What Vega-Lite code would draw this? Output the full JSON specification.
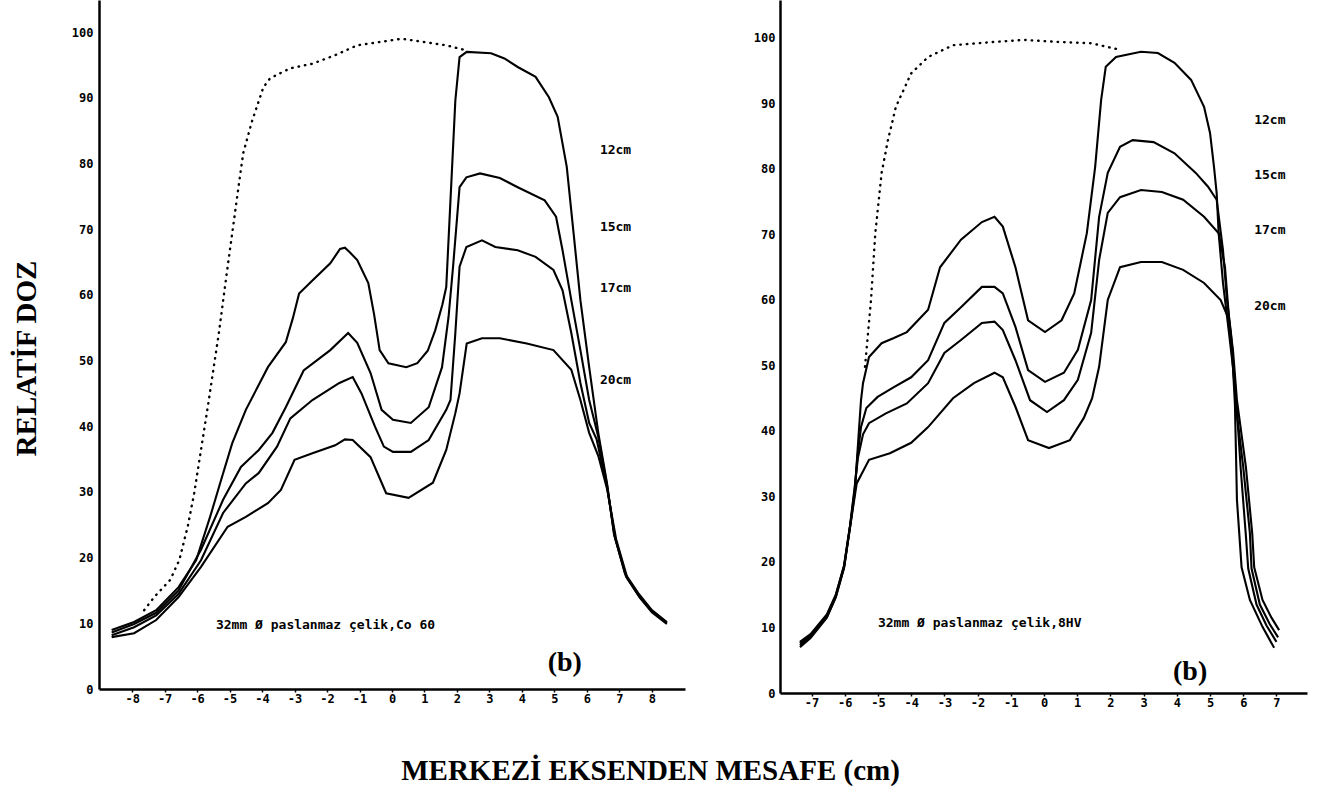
{
  "$schema": "https://vega.github.io/schema/vega-lite/v6.json",
  "background": "white",
  "padding": {"left": 12, "top": 0, "right": 8, "bottom": 4},
  "bounds": "flush",
  "spacing": 95,
  "config": {
    "view": {"stroke": null},
    "axis": {
      "domainColor": "black", "domainWidth": 2.5, "grid": false,
      "labelFont": "DejaVu Sans Mono", "labelFontWeight": "bold", "labelFontSize": 12, "labelColor": "black",
      "tickColor": "black", "labelOverlap": false, "labelFlush": false
    }
  },
  "datasets": {
    "leftCurves": [
      {"series": "12cm", "x": -8.63, "v": 9.0}, {"series": "12cm", "x": -7.94, "v": 10.2}, {"series": "12cm", "x": -7.26, "v": 12.0},
      {"series": "12cm", "x": -6.57, "v": 15.5}, {"series": "12cm", "x": -6.03, "v": 19.6}, {"series": "12cm", "x": -5.6, "v": 26.2},
      {"series": "12cm", "x": -5.25, "v": 32.0}, {"series": "12cm", "x": -4.92, "v": 37.4}, {"series": "12cm", "x": -4.5, "v": 42.5},
      {"series": "12cm", "x": -3.82, "v": 49.0}, {"series": "12cm", "x": -3.27, "v": 52.8}, {"series": "12cm", "x": -3.05, "v": 56.5},
      {"series": "12cm", "x": -2.86, "v": 60.2}, {"series": "12cm", "x": -2.45, "v": 62.2}, {"series": "12cm", "x": -1.9, "v": 64.8},
      {"series": "12cm", "x": -1.6, "v": 67.0}, {"series": "12cm", "x": -1.45, "v": 67.2}, {"series": "12cm", "x": -1.3, "v": 66.5},
      {"series": "12cm", "x": -1.07, "v": 65.3}, {"series": "12cm", "x": -0.73, "v": 61.8}, {"series": "12cm", "x": -0.55, "v": 57.0},
      {"series": "12cm", "x": -0.38, "v": 51.6}, {"series": "12cm", "x": -0.11, "v": 49.6}, {"series": "12cm", "x": 0.44, "v": 49.0},
      {"series": "12cm", "x": 0.78, "v": 49.6}, {"series": "12cm", "x": 1.1, "v": 51.5}, {"series": "12cm", "x": 1.33, "v": 54.6},
      {"series": "12cm", "x": 1.55, "v": 58.5}, {"series": "12cm", "x": 1.67, "v": 61.2}, {"series": "12cm", "x": 1.8, "v": 74.4},
      {"series": "12cm", "x": 1.95, "v": 89.6}, {"series": "12cm", "x": 2.08, "v": 96.2}, {"series": "12cm", "x": 2.3, "v": 97.0},
      {"series": "12cm", "x": 3.05, "v": 96.8}, {"series": "12cm", "x": 3.46, "v": 96.0}, {"series": "12cm", "x": 3.87, "v": 94.7},
      {"series": "12cm", "x": 4.42, "v": 93.2}, {"series": "12cm", "x": 4.83, "v": 90.1}, {"series": "12cm", "x": 5.1, "v": 87.1},
      {"series": "12cm", "x": 5.38, "v": 79.5}, {"series": "12cm", "x": 5.59, "v": 69.4}, {"series": "12cm", "x": 5.8, "v": 59.2},
      {"series": "12cm", "x": 6.07, "v": 49.0}, {"series": "12cm", "x": 6.35, "v": 39.0}, {"series": "12cm", "x": 6.62, "v": 31.3},
      {"series": "12cm", "x": 6.83, "v": 23.7}, {"series": "12cm", "x": 7.17, "v": 17.6}, {"series": "12cm", "x": 7.58, "v": 14.6},
      {"series": "12cm", "x": 8.0, "v": 12.0}, {"series": "12cm", "x": 8.46, "v": 10.2},

      {"series": "15cm", "x": -8.63, "v": 8.6}, {"series": "15cm", "x": -7.94, "v": 9.9}, {"series": "15cm", "x": -7.26, "v": 11.6},
      {"series": "15cm", "x": -6.57, "v": 15.0}, {"series": "15cm", "x": -5.88, "v": 21.2}, {"series": "15cm", "x": -5.2, "v": 28.8},
      {"series": "15cm", "x": -4.65, "v": 33.8}, {"series": "15cm", "x": -4.1, "v": 36.4}, {"series": "15cm", "x": -3.68, "v": 39.0},
      {"series": "15cm", "x": -3.27, "v": 42.9}, {"series": "15cm", "x": -2.72, "v": 48.5}, {"series": "15cm", "x": -1.9, "v": 51.6},
      {"series": "15cm", "x": -1.35, "v": 54.2}, {"series": "15cm", "x": -1.07, "v": 52.7}, {"series": "15cm", "x": -0.66, "v": 48.1},
      {"series": "15cm", "x": -0.32, "v": 42.5}, {"series": "15cm", "x": 0.03, "v": 41.0}, {"series": "15cm", "x": 0.58, "v": 40.5},
      {"series": "15cm", "x": 1.13, "v": 42.9}, {"series": "15cm", "x": 1.54, "v": 49.0}, {"series": "15cm", "x": 1.74, "v": 56.6},
      {"series": "15cm", "x": 1.88, "v": 64.3}, {"series": "15cm", "x": 2.08, "v": 76.4}, {"series": "15cm", "x": 2.29, "v": 77.9},
      {"series": "15cm", "x": 2.71, "v": 78.5}, {"series": "15cm", "x": 3.32, "v": 77.8}, {"series": "15cm", "x": 3.87, "v": 76.4},
      {"series": "15cm", "x": 4.7, "v": 74.4}, {"series": "15cm", "x": 5.05, "v": 71.9}, {"series": "15cm", "x": 5.25, "v": 66.8},
      {"series": "15cm", "x": 5.52, "v": 59.2}, {"series": "15cm", "x": 5.8, "v": 51.6}, {"series": "15cm", "x": 6.07, "v": 44.0},
      {"series": "15cm", "x": 6.35, "v": 38.4}, {"series": "15cm", "x": 6.62, "v": 31.0}, {"series": "15cm", "x": 6.85, "v": 23.3},
      {"series": "15cm", "x": 7.2, "v": 17.2}, {"series": "15cm", "x": 7.6, "v": 14.3}, {"series": "15cm", "x": 8.0, "v": 11.9},
      {"series": "15cm", "x": 8.46, "v": 10.1},

      {"series": "17cm", "x": -8.63, "v": 8.2}, {"series": "17cm", "x": -7.94, "v": 9.4}, {"series": "17cm", "x": -7.26, "v": 11.2},
      {"series": "17cm", "x": -6.57, "v": 14.5}, {"series": "17cm", "x": -5.88, "v": 19.6}, {"series": "17cm", "x": -5.2, "v": 26.8},
      {"series": "17cm", "x": -4.5, "v": 31.3}, {"series": "17cm", "x": -4.1, "v": 32.9}, {"series": "17cm", "x": -3.54, "v": 36.9},
      {"series": "17cm", "x": -3.13, "v": 41.2}, {"series": "17cm", "x": -2.45, "v": 44.0}, {"series": "17cm", "x": -1.62, "v": 46.6},
      {"series": "17cm", "x": -1.21, "v": 47.5}, {"series": "17cm", "x": -0.94, "v": 45.0}, {"series": "17cm", "x": -0.52, "v": 39.9},
      {"series": "17cm", "x": -0.25, "v": 36.9}, {"series": "17cm", "x": 0.03, "v": 36.1}, {"series": "17cm", "x": 0.58, "v": 36.1},
      {"series": "17cm", "x": 1.13, "v": 37.9}, {"series": "17cm", "x": 1.67, "v": 42.5}, {"series": "17cm", "x": 1.8, "v": 44.0},
      {"series": "17cm", "x": 1.95, "v": 54.2}, {"series": "17cm", "x": 2.08, "v": 64.3}, {"series": "17cm", "x": 2.29, "v": 67.3},
      {"series": "17cm", "x": 2.77, "v": 68.3}, {"series": "17cm", "x": 3.18, "v": 67.3}, {"series": "17cm", "x": 3.87, "v": 66.8},
      {"series": "17cm", "x": 4.42, "v": 65.8}, {"series": "17cm", "x": 4.97, "v": 63.8}, {"series": "17cm", "x": 5.25, "v": 60.7},
      {"series": "17cm", "x": 5.52, "v": 54.2}, {"series": "17cm", "x": 5.8, "v": 46.6}, {"series": "17cm", "x": 6.07, "v": 40.5},
      {"series": "17cm", "x": 6.3, "v": 38.0}, {"series": "17cm", "x": 6.62, "v": 30.8}, {"series": "17cm", "x": 6.87, "v": 23.0},
      {"series": "17cm", "x": 7.22, "v": 17.0}, {"series": "17cm", "x": 7.62, "v": 14.0}, {"series": "17cm", "x": 8.0, "v": 11.8},
      {"series": "17cm", "x": 8.46, "v": 10.0},

      {"series": "20cm", "x": -8.63, "v": 7.9}, {"series": "20cm", "x": -7.94, "v": 8.5}, {"series": "20cm", "x": -7.26, "v": 10.5},
      {"series": "20cm", "x": -6.57, "v": 14.0}, {"series": "20cm", "x": -5.88, "v": 18.6}, {"series": "20cm", "x": -5.06, "v": 24.7},
      {"series": "20cm", "x": -4.5, "v": 26.2}, {"series": "20cm", "x": -3.82, "v": 28.3}, {"series": "20cm", "x": -3.42, "v": 30.3},
      {"series": "20cm", "x": -3.0, "v": 34.9}, {"series": "20cm", "x": -2.45, "v": 35.9}, {"series": "20cm", "x": -1.75, "v": 37.1},
      {"series": "20cm", "x": -1.45, "v": 38.0}, {"series": "20cm", "x": -1.21, "v": 37.9}, {"series": "20cm", "x": -0.66, "v": 35.3},
      {"series": "20cm", "x": -0.18, "v": 29.8}, {"series": "20cm", "x": 0.51, "v": 29.1}, {"series": "20cm", "x": 1.26, "v": 31.4},
      {"series": "20cm", "x": 1.67, "v": 36.4}, {"series": "20cm", "x": 1.95, "v": 42.0}, {"series": "20cm", "x": 2.08, "v": 45.0},
      {"series": "20cm", "x": 2.3, "v": 52.6}, {"series": "20cm", "x": 2.77, "v": 53.4}, {"series": "20cm", "x": 3.32, "v": 53.4},
      {"series": "20cm", "x": 4.15, "v": 52.6}, {"series": "20cm", "x": 4.97, "v": 51.6}, {"series": "20cm", "x": 5.52, "v": 48.6},
      {"series": "20cm", "x": 5.8, "v": 44.0}, {"series": "20cm", "x": 6.07, "v": 39.0}, {"series": "20cm", "x": 6.35, "v": 35.5},
      {"series": "20cm", "x": 6.62, "v": 30.5}, {"series": "20cm", "x": 6.9, "v": 22.8}, {"series": "20cm", "x": 7.25, "v": 16.8},
      {"series": "20cm", "x": 7.65, "v": 13.8}, {"series": "20cm", "x": 8.0, "v": 11.7}, {"series": "20cm", "x": 8.46, "v": 9.9}
    ],
    "leftOpen": [
      {"x": -7.63, "v": 12.0}, {"x": -7.32, "v": 14.0}, {"x": -6.83, "v": 16.6}, {"x": -6.55, "v": 19.6}, {"x": -6.29, "v": 24.7},
      {"x": -6.09, "v": 29.8}, {"x": -5.88, "v": 36.4}, {"x": -5.67, "v": 43.0}, {"x": -5.33, "v": 54.2}, {"x": -5.06, "v": 64.3},
      {"x": -4.85, "v": 71.9}, {"x": -4.71, "v": 77.0}, {"x": -4.58, "v": 81.6}, {"x": -4.3, "v": 86.6}, {"x": -3.96, "v": 91.6},
      {"x": -3.75, "v": 93.0}, {"x": -3.13, "v": 94.5}, {"x": -2.45, "v": 95.2}, {"x": -1.75, "v": 96.5}, {"x": -1.07, "v": 98.0},
      {"x": -0.38, "v": 98.5}, {"x": 0.3, "v": 99.0}, {"x": 0.99, "v": 98.5}, {"x": 1.67, "v": 98.0}, {"x": 2.23, "v": 97.3}
    ],
    "leftLabels": [
      {"x": 6.4, "v": 82.0, "label": "12cm"}, {"x": 6.4, "v": 70.3, "label": "15cm"},
      {"x": 6.4, "v": 61.0, "label": "17cm"}, {"x": 6.4, "v": 47.0, "label": "20cm"}
    ],
    "leftNote": [{"x": -5.42, "v": 9.8, "label": "32mm Ø paslanmaz çelik,Co 60"}],
    "leftTag": [{"x": 5.32, "v": 4.0, "label": "(b)"}],
    "rightCurves": [
      {"series": "12cm", "x": -7.35, "v": 7.3}, {"series": "12cm", "x": -7.03, "v": 8.6}, {"series": "12cm", "x": -6.54, "v": 11.6},
      {"series": "12cm", "x": -6.27, "v": 14.7}, {"series": "12cm", "x": -6.02, "v": 19.2}, {"series": "12cm", "x": -5.84, "v": 25.4},
      {"series": "12cm", "x": -5.7, "v": 30.5}, {"series": "12cm", "x": -5.58, "v": 39.6}, {"series": "12cm", "x": -5.51, "v": 44.7},
      {"series": "12cm", "x": -5.45, "v": 47.3}, {"series": "12cm", "x": -5.27, "v": 51.3}, {"series": "12cm", "x": -4.89, "v": 53.4},
      {"series": "12cm", "x": -4.52, "v": 54.2}, {"series": "12cm", "x": -4.13, "v": 55.1}, {"series": "12cm", "x": -3.49, "v": 58.5},
      {"series": "12cm", "x": -3.13, "v": 65.0}, {"series": "12cm", "x": -2.5, "v": 69.2}, {"series": "12cm", "x": -1.87, "v": 71.9},
      {"series": "12cm", "x": -1.49, "v": 72.7}, {"series": "12cm", "x": -1.24, "v": 71.2}, {"series": "12cm", "x": -0.86, "v": 65.0},
      {"series": "12cm", "x": -0.48, "v": 56.9}, {"series": "12cm", "x": 0.03, "v": 55.1}, {"series": "12cm", "x": 0.53, "v": 56.9},
      {"series": "12cm", "x": 0.91, "v": 61.0}, {"series": "12cm", "x": 1.29, "v": 70.2}, {"series": "12cm", "x": 1.54, "v": 80.3},
      {"series": "12cm", "x": 1.72, "v": 90.5}, {"series": "12cm", "x": 1.86, "v": 95.6}, {"series": "12cm", "x": 2.17, "v": 97.1},
      {"series": "12cm", "x": 2.92, "v": 97.9}, {"series": "12cm", "x": 3.43, "v": 97.7}, {"series": "12cm", "x": 3.93, "v": 96.2},
      {"series": "12cm", "x": 4.43, "v": 93.6}, {"series": "12cm", "x": 4.82, "v": 89.5}, {"series": "12cm", "x": 5.0, "v": 85.5},
      {"series": "12cm", "x": 5.12, "v": 80.3}, {"series": "12cm", "x": 5.2, "v": 76.3}, {"series": "12cm", "x": 5.26, "v": 70.2},
      {"series": "12cm", "x": 5.39, "v": 62.6}, {"series": "12cm", "x": 5.57, "v": 55.0}, {"series": "12cm", "x": 5.69, "v": 49.8},
      {"series": "12cm", "x": 5.75, "v": 44.0}, {"series": "12cm", "x": 5.78, "v": 37.0}, {"series": "12cm", "x": 5.81, "v": 29.5},
      {"series": "12cm", "x": 5.95, "v": 19.2}, {"series": "12cm", "x": 6.2, "v": 14.2}, {"series": "12cm", "x": 6.58, "v": 10.1},
      {"series": "12cm", "x": 6.93, "v": 6.9},

      {"series": "15cm", "x": -7.35, "v": 7.6}, {"series": "15cm", "x": -7.03, "v": 8.8}, {"series": "15cm", "x": -6.54, "v": 11.8},
      {"series": "15cm", "x": -6.27, "v": 14.9}, {"series": "15cm", "x": -6.02, "v": 19.4}, {"series": "15cm", "x": -5.84, "v": 25.5},
      {"series": "15cm", "x": -5.7, "v": 31.0}, {"series": "15cm", "x": -5.62, "v": 36.0}, {"series": "15cm", "x": -5.51, "v": 40.6},
      {"series": "15cm", "x": -5.35, "v": 43.5}, {"series": "15cm", "x": -5.01, "v": 45.2}, {"series": "15cm", "x": -4.52, "v": 46.7},
      {"series": "15cm", "x": -4.0, "v": 48.2}, {"series": "15cm", "x": -3.49, "v": 50.8}, {"series": "15cm", "x": -3.0, "v": 56.5},
      {"series": "15cm", "x": -2.5, "v": 58.9}, {"series": "15cm", "x": -1.87, "v": 62.0}, {"series": "15cm", "x": -1.49, "v": 62.0},
      {"series": "15cm", "x": -1.24, "v": 61.0}, {"series": "15cm", "x": -0.86, "v": 55.9}, {"series": "15cm", "x": -0.48, "v": 49.3},
      {"series": "15cm", "x": 0.03, "v": 47.5}, {"series": "15cm", "x": 0.6, "v": 48.9}, {"series": "15cm", "x": 1.02, "v": 52.4},
      {"series": "15cm", "x": 1.42, "v": 60.0}, {"series": "15cm", "x": 1.66, "v": 72.7}, {"series": "15cm", "x": 1.92, "v": 79.4},
      {"series": "15cm", "x": 2.29, "v": 83.4}, {"series": "15cm", "x": 2.67, "v": 84.4}, {"series": "15cm", "x": 3.3, "v": 84.1},
      {"series": "15cm", "x": 3.93, "v": 82.4}, {"series": "15cm", "x": 4.57, "v": 79.4}, {"series": "15cm", "x": 4.94, "v": 77.3},
      {"series": "15cm", "x": 5.2, "v": 75.3}, {"series": "15cm", "x": 5.39, "v": 67.6}, {"series": "15cm", "x": 5.51, "v": 60.0},
      {"series": "15cm", "x": 5.63, "v": 55.0}, {"series": "15cm", "x": 5.75, "v": 47.3}, {"series": "15cm", "x": 5.85, "v": 40.0},
      {"series": "15cm", "x": 5.92, "v": 34.5}, {"series": "15cm", "x": 6.08, "v": 24.0}, {"series": "15cm", "x": 6.15, "v": 19.0},
      {"series": "15cm", "x": 6.4, "v": 13.5}, {"series": "15cm", "x": 6.7, "v": 10.3}, {"series": "15cm", "x": 7.0, "v": 7.8},

      {"series": "17cm", "x": -7.35, "v": 7.8}, {"series": "17cm", "x": -7.03, "v": 9.0}, {"series": "17cm", "x": -6.54, "v": 12.0},
      {"series": "17cm", "x": -6.27, "v": 15.0}, {"series": "17cm", "x": -6.02, "v": 19.5}, {"series": "17cm", "x": -5.84, "v": 25.6},
      {"series": "17cm", "x": -5.7, "v": 31.5}, {"series": "17cm", "x": -5.6, "v": 36.0}, {"series": "17cm", "x": -5.45, "v": 39.5},
      {"series": "17cm", "x": -5.27, "v": 41.2}, {"series": "17cm", "x": -4.76, "v": 42.7}, {"series": "17cm", "x": -4.13, "v": 44.2},
      {"series": "17cm", "x": -3.49, "v": 47.3}, {"series": "17cm", "x": -3.0, "v": 51.9}, {"series": "17cm", "x": -2.5, "v": 53.9},
      {"series": "17cm", "x": -1.87, "v": 56.5}, {"series": "17cm", "x": -1.49, "v": 56.7}, {"series": "17cm", "x": -1.24, "v": 55.4},
      {"series": "17cm", "x": -0.86, "v": 50.8}, {"series": "17cm", "x": -0.42, "v": 44.7}, {"series": "17cm", "x": 0.09, "v": 42.9},
      {"series": "17cm", "x": 0.6, "v": 44.7}, {"series": "17cm", "x": 1.02, "v": 47.8}, {"series": "17cm", "x": 1.42, "v": 55.0},
      {"series": "17cm", "x": 1.66, "v": 66.1}, {"series": "17cm", "x": 1.92, "v": 73.3}, {"series": "17cm", "x": 2.29, "v": 75.7},
      {"series": "17cm", "x": 2.92, "v": 76.8}, {"series": "17cm", "x": 3.55, "v": 76.5}, {"series": "17cm", "x": 4.19, "v": 75.3},
      {"series": "17cm", "x": 4.82, "v": 72.7}, {"series": "17cm", "x": 5.26, "v": 70.2}, {"series": "17cm", "x": 5.45, "v": 65.0},
      {"series": "17cm", "x": 5.57, "v": 57.4}, {"series": "17cm", "x": 5.69, "v": 49.8}, {"series": "17cm", "x": 5.8, "v": 43.0},
      {"series": "17cm", "x": 6.0, "v": 34.5}, {"series": "17cm", "x": 6.2, "v": 24.4}, {"series": "17cm", "x": 6.25, "v": 19.0},
      {"series": "17cm", "x": 6.5, "v": 13.5}, {"series": "17cm", "x": 6.8, "v": 10.5}, {"series": "17cm", "x": 7.05, "v": 8.5},

      {"series": "20cm", "x": -7.35, "v": 7.0}, {"series": "20cm", "x": -7.03, "v": 8.4}, {"series": "20cm", "x": -6.54, "v": 11.5},
      {"series": "20cm", "x": -6.27, "v": 14.6}, {"series": "20cm", "x": -6.02, "v": 19.1}, {"series": "20cm", "x": -5.84, "v": 25.3},
      {"series": "20cm", "x": -5.64, "v": 32.0}, {"series": "20cm", "x": -5.27, "v": 35.6}, {"series": "20cm", "x": -4.64, "v": 36.6},
      {"series": "20cm", "x": -4.0, "v": 38.2}, {"series": "20cm", "x": -3.49, "v": 40.6}, {"series": "20cm", "x": -2.74, "v": 45.0},
      {"series": "20cm", "x": -2.11, "v": 47.3}, {"series": "20cm", "x": -1.49, "v": 48.9}, {"series": "20cm", "x": -1.24, "v": 48.2},
      {"series": "20cm", "x": -0.86, "v": 43.7}, {"series": "20cm", "x": -0.48, "v": 38.6}, {"series": "20cm", "x": 0.15, "v": 37.4},
      {"series": "20cm", "x": 0.78, "v": 38.6}, {"series": "20cm", "x": 1.2, "v": 42.0}, {"series": "20cm", "x": 1.45, "v": 45.0},
      {"series": "20cm", "x": 1.66, "v": 49.8}, {"series": "20cm", "x": 1.92, "v": 60.0}, {"series": "20cm", "x": 2.29, "v": 65.0},
      {"series": "20cm", "x": 2.92, "v": 65.8}, {"series": "20cm", "x": 3.55, "v": 65.8}, {"series": "20cm", "x": 4.19, "v": 64.6},
      {"series": "20cm", "x": 4.82, "v": 62.6}, {"series": "20cm", "x": 5.32, "v": 60.0}, {"series": "20cm", "x": 5.57, "v": 57.0},
      {"series": "20cm", "x": 5.69, "v": 52.4}, {"series": "20cm", "x": 5.81, "v": 44.7}, {"series": "20cm", "x": 6.08, "v": 34.5},
      {"series": "20cm", "x": 6.27, "v": 24.4}, {"series": "20cm", "x": 6.33, "v": 19.2}, {"series": "20cm", "x": 6.58, "v": 14.2},
      {"series": "20cm", "x": 6.85, "v": 11.5}, {"series": "20cm", "x": 7.08, "v": 9.6}
    ],
    "rightOpen": [
      {"x": -5.39, "v": 49.8}, {"x": -5.21, "v": 60.0}, {"x": -5.08, "v": 70.2}, {"x": -4.89, "v": 79.4}, {"x": -4.7, "v": 84.4},
      {"x": -4.46, "v": 89.5}, {"x": -4.0, "v": 94.6}, {"x": -3.49, "v": 97.1}, {"x": -2.74, "v": 98.9}, {"x": -1.49, "v": 99.4},
      {"x": -0.6, "v": 99.7}, {"x": 0.41, "v": 99.4}, {"x": 1.42, "v": 99.2}, {"x": 2.29, "v": 98.2}
    ],
    "rightLabels": [
      {"x": 6.33, "v": 87.5, "label": "12cm"}, {"x": 6.33, "v": 79.1, "label": "15cm"},
      {"x": 6.33, "v": 70.7, "label": "17cm"}, {"x": 6.33, "v": 59.1, "label": "20cm"}
    ],
    "rightNote": [{"x": -5.0, "v": 10.7, "label": "32mm Ø paslanmaz çelik,8HV"}],
    "rightTag": [{"x": 4.4, "v": 3.25, "label": "(b)"}]
  },
  "hconcat": [
    {
      "width": 586,
      "height": 689,
      "layer": [
        {
          "data": {"name": "leftCurves"},
          "mark": {"type": "line", "color": "black", "strokeWidth": 2.1},
          "encoding": {
            "x": {
              "field": "x", "type": "quantitative",
              "scale": {"domain": [-9.02, 9.02], "nice": false, "zero": false},
              "axis": {
                "values": [-8, -7, -6, -5, -4, -3, -2, -1, 0, 1, 2, 3, 4, 5, 6, 7, 8],
                "tickCount": 40,
                "labelExpr": "'' + datum.value", "labelOverlap": false, "labelSeparation": 0,
                "tickSize": 3, "tickWidth": 1.5, "labelPadding": 1,
                "title": "MERKEZİ EKSENDEN MESAFE (cm)",
                "titleX": 551, "titleY": 90, "titleAlign": "center", "titleBaseline": "alphabetic",
                "titleFont": "Liberation Serif", "titleFontSize": 29, "titleFontWeight": "bold", "titleColor": "black"
              }
            },
            "y": {
              "field": "v", "type": "quantitative",
              "scale": {"domain": [0, 104.9], "nice": false},
              "axis": {
                "values": [0, 10, 20, 30, 40, 50, 60, 70, 80, 90, 100],
                "tickCount": 40,
                "ticks": false, "labelPadding": 6, "labelOverlap": false,
                "title": "RELATİF DOZ",
                "titleX": -64, "titleY": 358, "titleAngle": -90, "titleAlign": "center", "titleBaseline": "alphabetic",
                "titleFont": "Liberation Serif", "titleFontSize": 29, "titleFontWeight": "bold", "titleColor": "black"
              }
            },
            "detail": {"field": "series"}
          }
        },
        {
          "data": {"name": "leftOpen"},
          "mark": {"type": "line", "color": "black", "strokeWidth": 2.4, "strokeDash": [0.5, 6], "strokeCap": "round"},
          "encoding": {
            "x": {"field": "x", "type": "quantitative"},
            "y": {"field": "v", "type": "quantitative"}
          }
        },
        {
          "data": {"name": "leftLabels"},
          "mark": {"type": "text", "align": "left", "baseline": "middle", "font": "DejaVu Sans Mono", "fontWeight": "bold", "fontSize": 13, "color": "black"},
          "encoding": {
            "x": {"field": "x", "type": "quantitative"},
            "y": {"field": "v", "type": "quantitative"},
            "text": {"field": "label"}
          }
        },
        {
          "data": {"name": "leftNote"},
          "mark": {"type": "text", "align": "left", "baseline": "middle", "font": "DejaVu Sans Mono", "fontWeight": "bold", "fontSize": 13, "color": "black"},
          "encoding": {
            "x": {"field": "x", "type": "quantitative"},
            "y": {"field": "v", "type": "quantitative"},
            "text": {"field": "label"}
          }
        },
        {
          "data": {"name": "leftTag"},
          "mark": {"type": "text", "align": "center", "baseline": "middle", "font": "Liberation Serif", "fontWeight": "bold", "fontSize": 28, "color": "black"},
          "encoding": {
            "x": {"field": "x", "type": "quantitative"},
            "y": {"field": "v", "type": "quantitative"},
            "text": {"field": "label"}
          }
        }
      ]
    },
    {
      "width": 527,
      "height": 693,
      "layer": [
        {
          "data": {"name": "rightCurves"},
          "mark": {"type": "line", "color": "black", "strokeWidth": 2.1},
          "encoding": {
            "x": {
              "field": "x", "type": "quantitative",
              "scale": {"domain": [-7.95, 7.92], "nice": false, "zero": false},
              "axis": {
                "values": [-7, -6, -5, -4, -3, -2, -1, 0, 1, 2, 3, 4, 5, 6, 7],
                "tickCount": 40,
                "labelExpr": "'' + datum.value", "labelOverlap": false, "labelSeparation": 0,
                "tickSize": 3, "tickWidth": 1.5, "labelPadding": 1,
                "title": null
              }
            },
            "y": {
              "field": "v", "type": "quantitative",
              "scale": {"domain": [0, 105.8], "nice": false},
              "axis": {
                "values": [0, 10, 20, 30, 40, 50, 60, 70, 80, 90, 100],
                "tickCount": 40,
                "ticks": false, "labelPadding": 5, "labelOverlap": false, "title": null
              }
            },
            "detail": {"field": "series"}
          }
        },
        {
          "data": {"name": "rightOpen"},
          "mark": {"type": "line", "color": "black", "strokeWidth": 2.4, "strokeDash": [0.5, 6], "strokeCap": "round"},
          "encoding": {
            "x": {"field": "x", "type": "quantitative"},
            "y": {"field": "v", "type": "quantitative"}
          }
        },
        {
          "data": {"name": "rightLabels"},
          "mark": {"type": "text", "align": "left", "baseline": "middle", "font": "DejaVu Sans Mono", "fontWeight": "bold", "fontSize": 13, "color": "black"},
          "encoding": {
            "x": {"field": "x", "type": "quantitative"},
            "y": {"field": "v", "type": "quantitative"},
            "text": {"field": "label"}
          }
        },
        {
          "data": {"name": "rightNote"},
          "mark": {"type": "text", "align": "left", "baseline": "middle", "font": "DejaVu Sans Mono", "fontWeight": "bold", "fontSize": 13, "color": "black"},
          "encoding": {
            "x": {"field": "x", "type": "quantitative"},
            "y": {"field": "v", "type": "quantitative"},
            "text": {"field": "label"}
          }
        },
        {
          "data": {"name": "rightTag"},
          "mark": {"type": "text", "align": "center", "baseline": "middle", "font": "Liberation Serif", "fontWeight": "bold", "fontSize": 28, "color": "black"},
          "encoding": {
            "x": {"field": "x", "type": "quantitative"},
            "y": {"field": "v", "type": "quantitative"},
            "text": {"field": "label"}
          }
        }
      ]
    }
  ]
}
